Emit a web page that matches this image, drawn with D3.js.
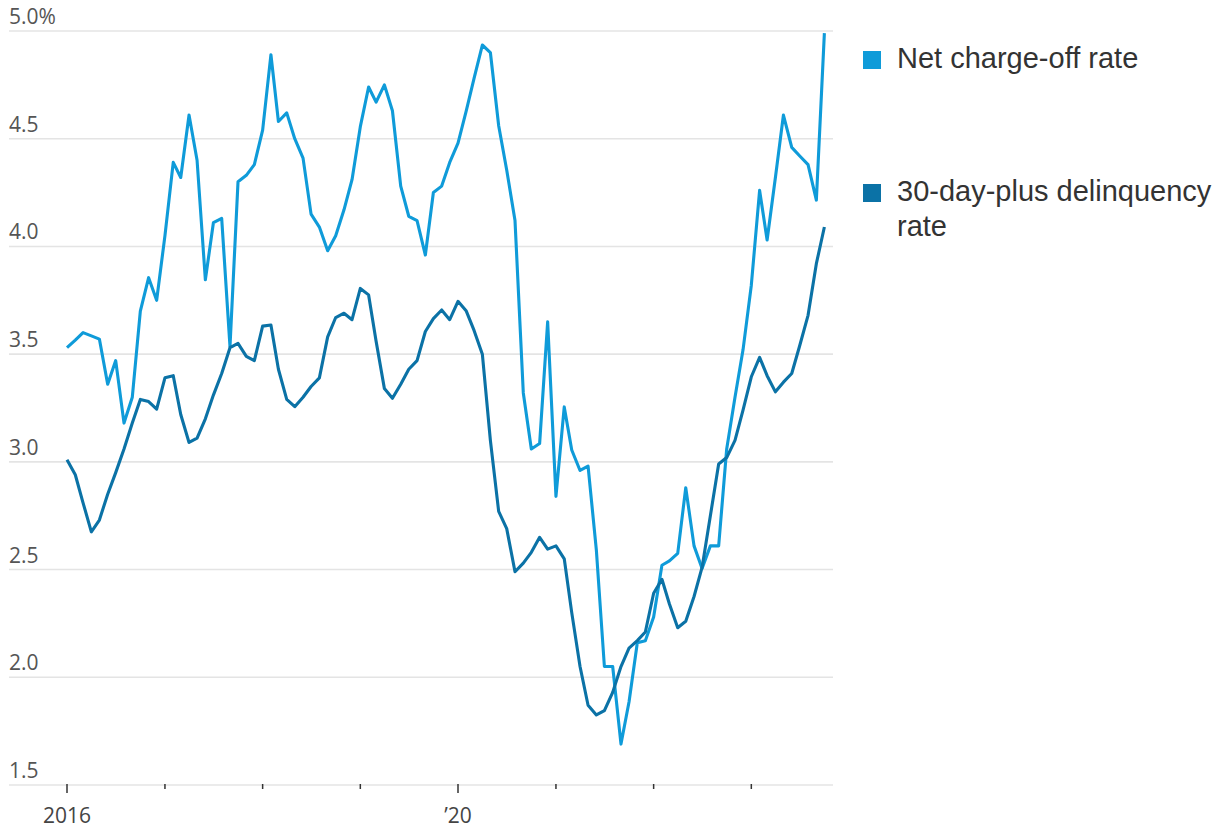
<!DOCTYPE html>
<html>
<head>
<meta charset="utf-8">
<script src="https://cdn.jsdelivr.net/npm/d3@7"></script>
<style>
  body { margin: 0; background: #fff; }
  svg { display: block; }
</style>
</head>
<body>
<div id="chart"></div>
<script>
// monthly, Jan 2016 .. Oct 2023
const startMonth = new Date(2016, 0, 1);
const endMonth = new Date(2023, 10, 1);

const netChargeOff = [
  3.53, 3.565, 3.60, 3.585, 3.57, 3.36, 3.47, 3.18, 3.30, 3.70,
  3.855, 3.75, 4.05, 4.39, 4.32, 4.61, 4.40, 3.845, 4.11, 4.13,
  3.535, 4.30, 4.33, 4.38, 4.54, 4.89, 4.58, 4.62, 4.50, 4.41,
  4.15, 4.09, 3.98, 4.05, 4.17, 4.31, 4.556, 4.74, 4.67, 4.75,
  4.63, 4.28, 4.14, 4.12, 3.96, 4.25, 4.28, 4.39, 4.48, 4.63,
  4.78, 4.935, 4.90, 4.56, 4.355, 4.12, 3.32, 3.06, 3.085, 3.65,
  2.84, 3.255, 3.055, 2.96, 2.98, 2.59, 2.05, 2.05, 1.69, 1.885,
  2.16, 2.17, 2.28, 2.52, 2.54, 2.575, 2.88, 2.61, 2.505, 2.61,
  2.61, 3.06, 3.30, 3.52, 3.82, 4.26, 4.03, 4.32, 4.61, 4.46,
  4.42, 4.38, 4.215, 4.99
];

const delinquency = [
  3.01, 2.94, 2.81, 2.675, 2.73, 2.85, 2.95, 3.06, 3.18, 3.29,
  3.28, 3.245, 3.39, 3.40, 3.22, 3.09, 3.11, 3.20, 3.31, 3.41,
  3.53, 3.55, 3.49, 3.47, 3.63, 3.635, 3.43, 3.29, 3.256, 3.30,
  3.35, 3.39, 3.58, 3.67, 3.69, 3.66, 3.805, 3.775, 3.56, 3.34,
  3.295, 3.36, 3.43, 3.47, 3.605, 3.665, 3.705, 3.66, 3.745, 3.70,
  3.61, 3.50, 3.10, 2.77, 2.69, 2.49, 2.53, 2.58, 2.65, 2.595,
  2.61, 2.55, 2.30, 2.05, 1.87, 1.825, 1.845, 1.93, 2.05, 2.135,
  2.17, 2.21, 2.39, 2.455, 2.34, 2.23, 2.26, 2.375, 2.51, 2.75,
  2.99, 3.02, 3.10, 3.24, 3.395, 3.485, 3.40, 3.325, 3.37, 3.41,
  3.54, 3.68, 3.92, 4.09
];

const yTicks = [1.5, 2.0, 2.5, 3.0, 3.5, 4.0, 4.5, 5.0];
const yearTicks = [2016, 2017, 2018, 2019, 2020, 2021, 2022, 2023];
const yearLabels = { 2016: "2016", 2020: "\u201920" };

const seriesNames = ["Net charge-off rate", "30-day-plus delinquency rate"];
const colors = ["#0f9bd9", "#0b72a6"];

const months = d3.timeMonths(startMonth, endMonth);

const W = 1228, H = 829;
const svg = d3.select("#chart").append("svg")
  .attr("width", W)
  .attr("height", H);

const x = d3.scaleTime()
  .domain([new Date(2016, 0, 1), new Date(2024, 0, 1)])
  .range([67, 849]);

const y = d3.scaleLinear()
  .domain([1.5, 5.0])
  .range([785, 31]);

// gridlines + y labels
const grid = svg.append("g");
grid.selectAll("line")
  .data(yTicks)
  .enter().append("line")
  .attr("x1", 9)
  .attr("x2", 833)
  .attr("y1", d => y(d))
  .attr("y2", d => y(d))
  .attr("stroke", "#e4e4e4")
  .attr("stroke-width", 1.6);

grid.selectAll("text")
  .data(yTicks)
  .enter().append("text")
  .attr("x", 9)
  .attr("y", d => y(d) - 7)
  .attr("font-family", "'Open Sans', sans-serif")
  .attr("font-size", 21)
  .attr("fill", "#555")
  .text(d => d === 5 ? "5.0%" : d.toFixed(1));

// x ticks
const xg = svg.append("g");
xg.selectAll("line")
  .data(yearTicks)
  .enter().append("line")
  .attr("x1", d => x(new Date(d, 0, 1)))
  .attr("x2", d => x(new Date(d, 0, 1)))
  .attr("y1", 784)
  .attr("y2", d => yearLabels[d] ? 793 : 789)
  .attr("stroke", "#333")
  .attr("stroke-width", 1.5);

xg.selectAll("text")
  .data(yearTicks.filter(d => yearLabels[d]))
  .enter().append("text")
  .attr("x", d => x(new Date(d, 0, 1)))
  .attr("y", 823)
  .attr("text-anchor", "middle")
  .attr("font-family", "'Open Sans', sans-serif")
  .attr("font-size", 21)
  .attr("fill", "#444")
  .text(d => yearLabels[d]);

// lines
const line = d3.line()
  .x((d, i) => x(months[i]))
  .y(d => y(d));

svg.append("path")
  .datum(netChargeOff)
  .attr("d", line)
  .attr("fill", "none")
  .attr("stroke", colors[0])
  .attr("stroke-width", 3.1)
  .attr("stroke-linejoin", "round");

svg.append("path")
  .datum(delinquency)
  .attr("d", line)
  .attr("fill", "none")
  .attr("stroke", colors[1])
  .attr("stroke-width", 3.1)
  .attr("stroke-linejoin", "round");

// legend
const legend = svg.append("g");
const legendRows = [
  { y: 51, lines: ["Net charge-off rate"] },
  { y: 184, lines: ["30-day-plus delinquency", "rate"] }
];
legendRows.forEach((row, i) => {
  legend.append("rect")
    .attr("x", 863)
    .attr("y", row.y)
    .attr("width", 18)
    .attr("height", 18)
    .attr("fill", colors[i]);
  const t = legend.append("text")
    .attr("x", 897)
    .attr("y", row.y + 17)
    .attr("font-family", "'Liberation Sans', Arial, sans-serif")
    .attr("font-size", 29)
    .attr("fill", "#333");
  row.lines.forEach((s, j) => {
    t.append("tspan")
      .attr("x", 897)
      .attr("dy", j === 0 ? 0 : 35)
      .text(s);
  });
});
</script>
</body>
</html>
